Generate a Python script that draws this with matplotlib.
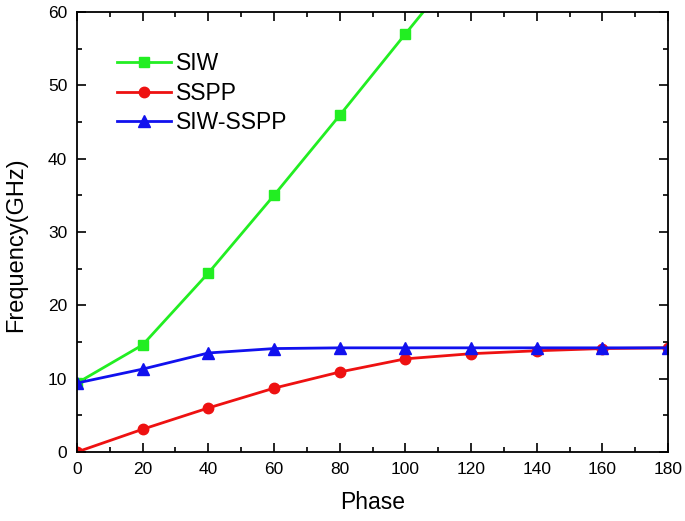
import matplotlib
matplotlib.use("Agg")
import matplotlib.pyplot as plt
from matplotlib.ticker import MultipleLocator

# phase points (deg)
phase = [0, 20, 40, 60, 80, 100, 120, 140, 160, 180]
phase_siw = [0, 20, 40, 60, 80, 100, 120]

# frequency in GHz
siw = [9.4, 14.6, 24.4, 35.0, 45.9, 57.0, 68.0]
sspp = [0.0, 3.1, 6.0, 8.7, 10.9, 12.7, 13.4, 13.8, 14.1, 14.2]
siw_sspp = [9.4, 11.3, 13.5, 14.1, 14.2, 14.2, 14.2, 14.2, 14.2, 14.2]

plt.rcParams['font.family'] = ['Liberation Sans', 'DejaVu Sans']

fig = plt.figure(figsize=(6.85, 5.21), dpi=100)
ax = fig.add_axes([0.1124, 0.1325, 0.8628, 0.8445])

ax.plot(phase_siw, siw, color='#22ee22', marker='s', ms=7, lw=2, label='SIW')
ax.plot(phase, sspp, color='#ee1111', marker='o', ms=7.5, lw=2, label='SSPP')
ax.plot(phase, siw_sspp, color='#1111ee', marker='^', ms=8, lw=2, label='SIW-SSPP')

ax.set_xlim(0, 180)
ax.set_ylim(0, 60)
ax.xaxis.set_major_locator(MultipleLocator(20))
ax.xaxis.set_minor_locator(MultipleLocator(10))
ax.yaxis.set_major_locator(MultipleLocator(10))
ax.yaxis.set_minor_locator(MultipleLocator(5))
ax.tick_params(which='both', direction='in', top=True, right=True, width=1.2)
ax.tick_params(which='major', length=6.5, labelsize=12.5, pad=7)
ax.tick_params(which='minor', length=3.6)
for s in ax.spines.values():
    s.set_linewidth(1.3)

ax.set_xlabel('Phase', fontsize=16.5, labelpad=10)
ax.set_ylabel('Frequency(GHz)', fontsize=17, labelpad=15, y=0.47)

ax.legend(loc='upper left', bbox_to_anchor=(0.033, 0.955), frameon=False,
          fontsize=16.5, handlelength=2.35, handletextpad=0.2, labelspacing=0.28)

fig.savefig('out.png', dpi=100)
